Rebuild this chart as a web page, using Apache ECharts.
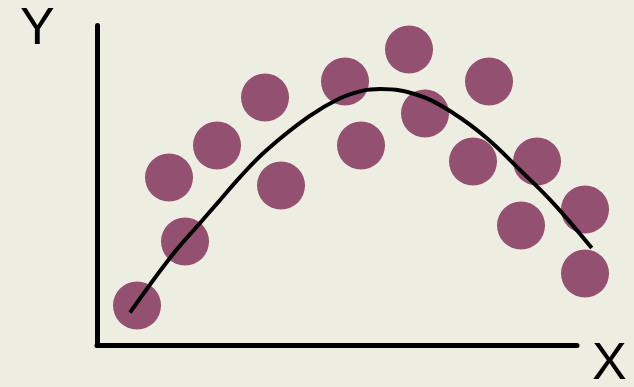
<!DOCTYPE html>
<html>
<head>
<meta charset="utf-8">
<script src="https://cdn.jsdelivr.net/npm/echarts@6/dist/echarts.min.js"></script>
<style>
html,body{margin:0;padding:0;background:#ededE1;}
#c{width:634px;height:387px;}
</style>
</head>
<body>
<div id="c"></div>
<script>
// Scatter points (data units)
const pointX = [2.5, 5.5, 4.5, 7.5, 10.5, 11.5, 15.5, 16.5, 19.5, 20.5, 23.5, 24.5, 27.5, 26.5, 30.5, 30.5];
const pointY = [2.5, 6.5, 10.5, 12.5, 15.5, 10, 16.5, 12.5, 18.5, 14.5, 11.5, 16.5, 11.5, 7.5, 8.5, 4.5];
// Fitted curve samples
const curveX = [2.06, 4.56, 6.44, 7.69, 8.94, 10.61, 13.23, 15.19, 16.63, 17.69, 20.19, 22.25, 24.35, 26.44, 28.5, 30.92];
const curveY = [2.05, 5.47, 7.66, 9.09, 10.53, 12.22, 14.3, 15.45, 15.93, 16.03, 15.61, 14.53, 12.97, 10.97, 8.91, 6.09];
const axisNames = {x: 'X', y: 'Y'};

const chart = echarts.init(document.getElementById('c'), null, {renderer: 'canvas'});
const hidden = {axisTick: {show: false}, axisLabel: {show: false}, splitLine: {show: false}};
chart.setOption({
  backgroundColor: '#ededE1',
  animation: false,
  grid: [
    {left: 97, right: 57, top: 25.5, bottom: 41.5},
    {left: 97, right: 25, top: 25.5, bottom: 41.5}
  ],
  xAxis: [
    Object.assign({type: 'value', gridIndex: 0, min: 0, max: 30,
      axisLine: {show: true, lineStyle: {color: '#000', width: 5}}}, hidden),
    Object.assign({type: 'value', gridIndex: 1, min: 0, max: 32,
      axisLine: {show: false}}, hidden)
  ],
  yAxis: [
    Object.assign({type: 'value', gridIndex: 0, min: 0, max: 20,
      axisLine: {show: true, lineStyle: {color: '#000', width: 5}}}, hidden),
    Object.assign({type: 'value', gridIndex: 1, min: 0, max: 20,
      axisLine: {show: false}}, hidden)
  ],
  graphic: [
    {type: 'text', left: 20, top: 4, style: {text: axisNames.y, font: '52px "Liberation Sans", Arial, sans-serif', fill: '#000'}},
    {type: 'text', left: 592, top: 339, style: {text: axisNames.x, font: '52px "Liberation Sans", Arial, sans-serif', fill: '#000'}}
  ],
  series: [
    {
      type: 'scatter', clip: false, xAxisIndex: 1, yAxisIndex: 1,
      symbolSize: 48,
      itemStyle: {color: '#935070', opacity: 1},
      data: pointX.map((x, i) => [x, pointY[i]])
    },
    {
      type: 'line', clip: false, smooth: 0.4, showSymbol: false, symbol: 'none',
      xAxisIndex: 1, yAxisIndex: 1,
      lineStyle: {color: '#000', width: 4},
      data: curveX.map((x, i) => [x, curveY[i]]),
      z: 5
    }
  ]
});
</script>
</body>
</html>
